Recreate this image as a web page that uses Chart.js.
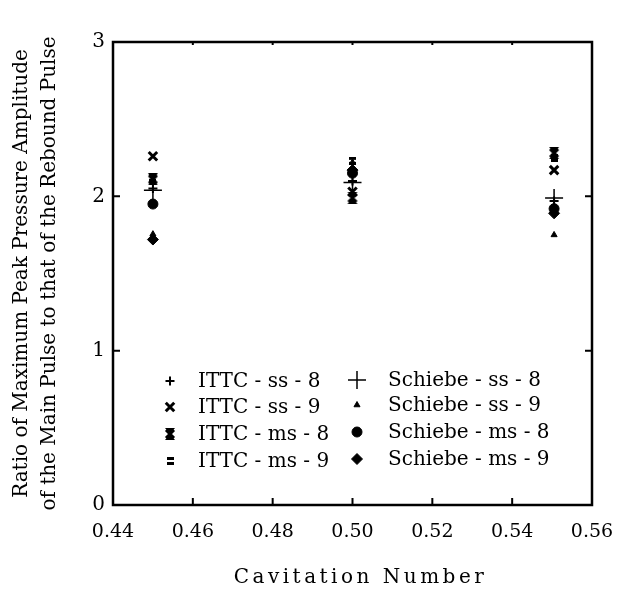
<!DOCTYPE html>
<html><head><meta charset="utf-8">
<script src="https://cdn.jsdelivr.net/npm/chart.js@4/dist/chart.umd.min.js"></script>
<style>html,body{margin:0;padding:0;background:#fff}</style>
</head><body>
<canvas id="c" width="623" height="598"></canvas>
<script>
// ---- data ----
const cavitationNumbers = [0.45, 0.50, 0.5505];
const seriesNames = ["ITTC - ss - 8","ITTC - ss - 9","ITTC - ms - 8","ITTC - ms - 9",
                     "Schiebe - ss - 8","Schiebe - ss - 9","Schiebe - ms - 8","Schiebe - ms - 9"];
const ittcSs8    = [2.05, 2.10, 1.97];
const ittcSs9    = [2.26, 2.03, 2.17];
const ittcMs8    = [2.11, 1.99, 2.28];
const ittcMs9    = [2.12, 2.23, 2.25];
const schiebeSs8 = [2.04, 2.09, 1.99];
const schiebeSs9 = [1.755, 2.22, 1.75];
const schiebeMs8 = [1.95, 2.15, 1.92];
const schiebeMs9 = [1.72, 2.17, 1.89];
const xTickValues = [0.44, 0.46, 0.48, 0.50, 0.52, 0.54, 0.56];
const yTickValues = [0, 1, 2, 3];

// ---- custom marker images ----
function makeBowtie(){
  const c=document.createElement('canvas'); c.width=12; c.height=12;
  const g=c.getContext('2d'); g.fillStyle='#000'; g.strokeStyle='#000';
  g.lineWidth=3; g.beginPath(); g.moveTo(2,2); g.lineTo(10,10); g.moveTo(10,2); g.lineTo(2,10); g.stroke();
  g.beginPath(); g.moveTo(1,0); g.lineTo(11,0); g.lineTo(6,6); g.lineTo(11,12); g.lineTo(1,12); g.lineTo(6,6); g.closePath(); g.fill();
  return c;
}
function makeEquals(){
  const c=document.createElement('canvas'); c.width=7; c.height=8;
  const g=c.getContext('2d'); g.fillStyle='#000';
  g.fillRect(0,0,7,3); g.fillRect(0,5,7,3);
  return c;
}
const bowtie = makeBowtie(), equalsMark = makeEquals();

const seriesValues = [ittcSs8, ittcSs9, ittcMs8, ittcMs9, schiebeSs8, schiebeSs9, schiebeMs8, schiebeMs9];
const styles = [
  {pointStyle:'cross', pointRadius:4.5, pointBorderWidth:2},
  {pointStyle:'crossRot', pointRadius:6, pointBorderWidth:3},
  {pointStyle:bowtie, pointRadius:6, pointBorderWidth:0},
  {pointStyle:equalsMark, pointRadius:4, pointBorderWidth:0},
  {pointStyle:'cross', pointRadius:9, pointBorderWidth:1.5},
  {pointStyle:'triangle', pointRadius:3.5, pointBorderWidth:1},
  {pointStyle:'circle', pointRadius:5, pointBorderWidth:1},
  {pointStyle:'rectRot', pointRadius:5.5, pointBorderWidth:1},
];

const datasets = seriesValues.map((vals, i) => Object.assign({
  label: seriesNames[i],
  data: cavitationNumbers.map((x, j) => ({x: x, y: vals[j]})),
  borderColor: '#000', backgroundColor: '#000',
  pointBackgroundColor: '#000', pointBorderColor: '#000',
  showLine: false
}, styles[i]));

const FONT = "'DejaVu Serif', serif";

const framePlugin = {
  id: 'frame',
  afterDatasetsDraw(chart){
    const ctx=chart.ctx, ca=chart.chartArea, xs=chart.scales.x, ys=chart.scales.y;
    ctx.save(); ctx.strokeStyle='#000'; ctx.lineWidth=2.5;
    ctx.strokeRect(ca.left, ca.top, ca.right-ca.left, ca.bottom-ca.top);
    ctx.lineWidth=2;
    ctx.beginPath();
    xTickValues.slice(1,-1).forEach(v=>{ const p=xs.getPixelForValue(v);
      ctx.moveTo(p, ca.bottom); ctx.lineTo(p, ca.bottom-7);
      ctx.moveTo(p, ca.top); ctx.lineTo(p, ca.top+3); });
    yTickValues.slice(1,-1).forEach(v=>{ const p=ys.getPixelForValue(v);
      ctx.moveTo(ca.left, p); ctx.lineTo(ca.left+7, p);
      ctx.moveTo(ca.right, p); ctx.lineTo(ca.right-7, p); });
    ctx.stroke(); ctx.restore();
  }
};

const legendPlugin = {
  id: 'boxLegend',
  afterDraw(chart){
    const ctx=chart.ctx, ca=chart.chartArea;
    const colMarkX=[57, 244], colTextX=[85, 275];
    const rowY=[[339,365,392,419],[338,363,390,417]];
    ctx.save();
    ctx.font = '20px ' + FONT; ctx.textBaseline='middle'; ctx.textAlign='left';
    chart.data.datasets.forEach((ds,i)=>{
      const col = i<4?0:1, row=i%4;
      const x = ca.left+colMarkX[col], y = ca.top+rowY[col][row];
      ctx.fillStyle='#000'; ctx.strokeStyle='#000'; ctx.lineWidth=ds.pointBorderWidth||1;
      Chart.helpers.drawPoint(ctx, {pointStyle: ds.pointStyle, radius: ds.pointRadius, borderWidth: ds.pointBorderWidth, rotation:0}, x, y);
      ctx.fillStyle='#000';
      ctx.fillText(ds.label, ca.left+colTextX[col], y+1);
    });
    ctx.restore();
  }
};

const chart = new Chart(document.getElementById('c'), {
  type: 'scatter',
  data: { datasets },
  options: {
    responsive: false, animation: false,
    layout: { padding: { top: 42, right: 31, left: 0, bottom: 0 } },
    plugins: { legend: { display: false }, tooltip: { enabled: false } },
    scales: {
      x: {
        type: 'linear', min: 0.44, max: 0.56,
        afterBuildTicks: s => { s.ticks = xTickValues.map(v => ({value: v})); },
        afterFit: s => { s.height = 93; s.paddingLeft = 0; s.paddingRight = 0; },
        grid: { display: true, drawOnChartArea: false, drawTicks: false },
        border: { display: false },
        ticks: { color: '#000', font: { family: FONT, size: 19 }, padding: 16, maxRotation: 0,
                 callback: v => Number(v).toFixed(2) },
        title: { display: true, text: 'Cavitation Number', color: '#000',
                 font: { family: FONT, size: 20, lineHeight: 1.2 }, padding: { top: 0, bottom: 8 } }
      },
      y: {
        type: 'linear', min: 0, max: 3,
        afterBuildTicks: s => { s.ticks = yTickValues.map(v => ({value: v})); },
        afterFit: s => { s.width = 113; s.paddingTop = 0; s.paddingBottom = 0; },
        grid: { display: true, drawOnChartArea: false, drawTicks: false },
        border: { display: false },
        ticks: { color: '#000', font: { family: FONT, size: 20 }, padding: 8,
                 callback: v => String(v) },
        title: { display: true,
                 text: ['Ratio of Maximum Peak Pressure Amplitude', 'of the Main Pulse to that of the Rebound Pulse'],
                 color: '#000', font: { family: FONT, size: 20, lineHeight: 1.4 }, padding: { top: 8, bottom: 0 } }
      }
    }
  },
  plugins: [framePlugin, legendPlugin]
});
// letter-spaced x-axis title as in the reference
const xs = chart.scales.x, origDrawTitle = xs.drawTitle;
xs.drawTitle = function(){ const c=this.ctx; c.save(); c.letterSpacing='3.5px'; c.translate(8,0); origDrawTitle.call(this); c.restore(); };
chart.draw();
</script>
</body></html>
